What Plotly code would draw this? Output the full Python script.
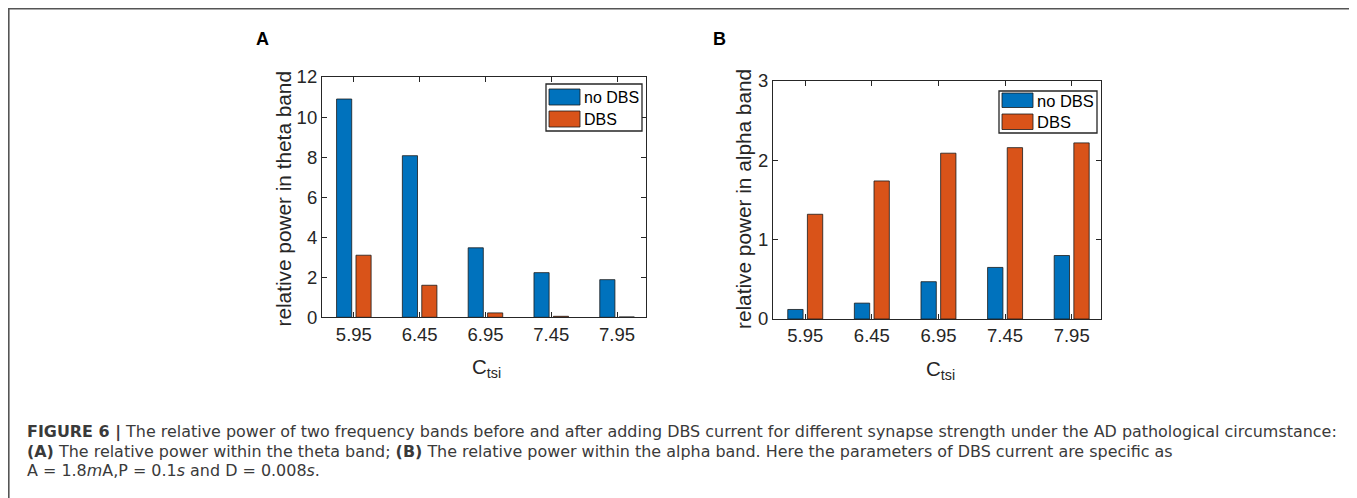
import plotly.graph_objects as go

# page body has an 8px default margin: figure occupies 8..1357 x 8..498
OFF = 8
W, H = 1357 - OFF, 498 - OFF

c_tsi = [5.95, 6.45, 6.95, 7.45, 7.95]
tick_labels = ["5.95", "6.45", "6.95", "7.45", "7.95"]
theta_no_dbs = [10.9, 8.07, 3.47, 2.23, 1.88]
theta_dbs = [3.1, 1.6, 0.22, 0.05, 0.02]
alpha_no_dbs = [0.12, 0.2, 0.47, 0.65, 0.8]
alpha_dbs = [1.32, 1.74, 2.09, 2.16, 2.22]
series_names = ["no DBS", "DBS"]
series_colors = ["#0072BD", "#D95319"]

AXC = "#262626"
FONT = "Liberation Sans, Arial, sans-serif"
CAP_FONT = "DejaVu Sans, sans-serif"


def px(x):
    return (x - OFF) / W


def py(y):
    return 1 - (y - OFF) / H


fig = go.Figure()
for vals, name, col, xa, ya in [
    (theta_no_dbs, series_names[0], series_colors[0], "x", "y"),
    (theta_dbs, series_names[1], series_colors[1], "x", "y"),
    (alpha_no_dbs, series_names[0], series_colors[0], "x2", "y2"),
    (alpha_dbs, series_names[1], series_colors[1], "x2", "y2"),
]:
    fig.add_trace(go.Bar(
        x=c_tsi, y=vals, name=name, xaxis=xa, yaxis=ya, showlegend=False,
        marker=dict(color=col, line=dict(color="#1a1a1a", width=0.8)),
    ))

axis_common = dict(
    showgrid=False, zeroline=False, showline=True, linecolor=AXC, linewidth=1.2,
    mirror="ticks", ticks="inside", ticklen=5, tickcolor=AXC, tickwidth=1,
    tickfont=dict(family=FONT, size=18.5, color=AXC), automargin=False,
)

fig.update_layout(
    width=W, height=H,
    margin=dict(l=0, r=0, t=0, b=0),
    paper_bgcolor="white", plot_bgcolor="white",
    barmode="group", bargap=0.41, bargroupgap=0.22,
    showlegend=False,
    xaxis=dict(domain=[px(322), px(646)], range=[5.708, 8.17], anchor="y",
               tickvals=c_tsi, ticktext=tick_labels, **axis_common),
    yaxis=dict(domain=[py(317.3), py(77)], range=[0, 12], anchor="x",
               tickvals=[0, 2, 4, 6, 8, 10, 12], **axis_common),
    xaxis2=dict(domain=[px(773), px(1101)], range=[5.708, 8.17], anchor="y2",
                tickvals=c_tsi, ticktext=tick_labels, **axis_common),
    yaxis2=dict(domain=[py(319), py(81)], range=[0, 3], anchor="x2",
                tickvals=[0, 1, 2, 3], **axis_common),
)

anns = []
shapes = []

# legend boxes (decorations, one per panel)
legend_boxes = [
    dict(box=(546, 642, 84, 131), sw=(549, 580), rows=[(89, 105), (111, 127)], fs=16),
    dict(box=(999, 1097, 91, 133), sw=(1002, 1033), rows=[(93, 107.5), (114, 129.5)], fs=16.5),
]
for lb in legend_boxes:
    bx0, bx1, by0, by1 = lb["box"]
    shapes.append(dict(type="rect", xref="paper", yref="paper",
                       x0=px(bx0), x1=px(bx1), y0=py(by1), y1=py(by0),
                       line=dict(color=AXC, width=1.3), fillcolor="white", layer="above"))
    for (r0, r1), name, col in zip(lb["rows"], series_names, series_colors):
        shapes.append(dict(type="rect", xref="paper", yref="paper",
                           x0=px(lb["sw"][0]), x1=px(lb["sw"][1]), y0=py(r1), y1=py(r0),
                           line=dict(color="#1a1a1a", width=0.8), fillcolor=col, layer="above"))
        anns.append(dict(text=name, x=px(lb["sw"][1] + 2), y=py((r0 + r1) / 2 + 0.5),
                         xanchor="left", font=dict(family=FONT, size=lb["fs"], color="#000")))

# panel letters
anns.append(dict(text="<b>A</b>", x=px(262), y=py(39), font=dict(family=FONT, size=18, color="#000")))
anns.append(dict(text="<b>B</b>", x=px(719), y=py(39), font=dict(family=FONT, size=18, color="#000")))
# y titles
anns.append(dict(text="relative power in theta band", x=px(283), y=py(198.5), textangle=-90,
                 font=dict(family=FONT, size=20.8, color=AXC)))
anns.append(dict(text="relative power in alpha band", x=px(743), y=py(199), textangle=-90,
                 font=dict(family=FONT, size=20.8, color=AXC)))
# x titles
anns.append(dict(text="C<sub>tsi</sub>", x=px(486), y=py(368), font=dict(family=FONT, size=20.5, color=AXC)))
anns.append(dict(text="C<sub>tsi</sub>", x=px(940), y=py(370), font=dict(family=FONT, size=20.5, color=AXC)))

cap_font = dict(family=CAP_FONT, size=15.95, color="#3a3a3a")
cap_lines = [
    "<b>FIGURE 6 |</b> The relative power of two frequency bands before and after adding DBS current for different synapse strength under the AD pathological circumstance:",
    "<b>(A)</b> The relative power within the theta band; <b>(B)</b> The relative power within the alpha band. Here the parameters of DBS current are specific as",
    "A = 1.8<i>m</i>A,P = 0.1<i>s</i> and D = 0.008<i>s</i>.",
]
for i, t in enumerate(cap_lines):
    anns.append(dict(text=t, x=px(24.5), y=py(432 + 19 * i), xanchor="left", font=cap_font))

for a in anns:
    a.setdefault("xanchor", "center")
    a.update(xref="paper", yref="paper", yanchor="middle", showarrow=False)

shapes.append(dict(type="rect", xref="paper", yref="paper",
                   x0=px(8.8), x1=px(1355), y0=-0.1, y1=py(8.8),
                   line=dict(color="#555555", width=1.6), fillcolor="rgba(0,0,0,0)"))

fig.update_layout(annotations=anns, shapes=shapes)

fig.write_html("out.html")
